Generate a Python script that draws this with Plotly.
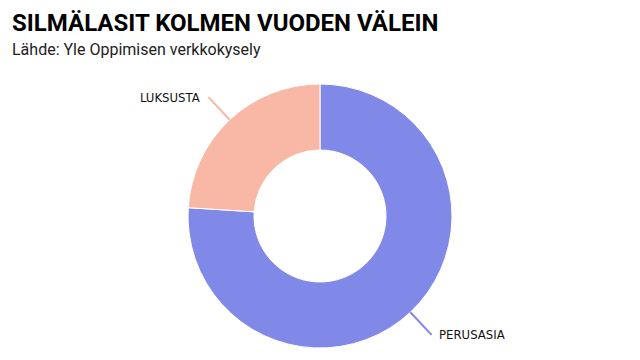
import math
import plotly.graph_objects as go

labels = ["PERUSASIA", "LUKSUSTA"]
values = [76, 24]
colors = ["#8088E8", "#F9B8A6"]

title_text = "SILMÄLASIT KOLMEN VUODEN VÄLEIN"
subtitle_text = "Lähde: Yle Oppimisen verkkokysely"

W, H = 640, 360
cx, cy, R = 320, 216, 132  # pixel geometry of the donut (from top-left)

fig = go.Figure()
fig.add_trace(go.Pie(
    labels=labels, values=values, hole=0.5, sort=False,
    direction="clockwise", rotation=0,
    marker=dict(colors=colors, line=dict(color="white", width=1)),
    textinfo="none", hoverinfo="label+percent", showlegend=False,
    domain=dict(x=[(cx - R) / W, (cx + R) / W], y=[(H - cy - R) / H, (H - cy + R) / H]),
))

shapes, annotations = [], []
total = sum(values)
cum = 0
for lab, v, col in zip(labels, values, colors):
    mid = (cum + v / 2) / total * 2 * math.pi  # clockwise from top
    cum += v
    dx, dy = math.sin(mid), -math.cos(mid)  # pixel dir (dy positive downward)
    x0, y0 = cx + dx * R, cy + dy * R
    x1, y1 = cx + dx * (R + 31), cy + dy * (R + 31)
    shapes.append(dict(type="line", xref="paper", yref="paper",
                       x0=x0 / W, y0=1 - y0 / H, x1=x1 / W, y1=1 - y1 / H,
                       line=dict(color=col, width=2)))
    right = dx < 0
    tx = x1 - 6 if right else x1 + 5
    annotations.append(dict(text=lab, xref="paper", yref="paper", x=tx / W, y=1 - y1 / H,
                            xanchor="right" if right else "left", yanchor="middle",
                            showarrow=False,
                            font=dict(family="DejaVu Sans Condensed, sans-serif",
                                      size=13, color="#111111")))

annotations.append(dict(text="<b>" + title_text + "</b>", xref="paper", yref="paper",
                        x=10 / W, y=1 - 7 / H, xanchor="left", yanchor="top", showarrow=False,
                        font=dict(family="Roboto, sans-serif", size=24, color="#000000")))
annotations.append(dict(text=subtitle_text, xref="paper", yref="paper",
                        x=10 / W, y=1 - 38 / H, xanchor="left", yanchor="top", showarrow=False,
                        font=dict(family="Roboto, sans-serif", size=16, color="#222222")))

fig.update_layout(width=W, height=H, margin=dict(l=0, r=0, t=0, b=0),
                  paper_bgcolor="white", plot_bgcolor="white",
                  shapes=shapes, annotations=annotations)
fig.write_html("out.html", config={"displayModeBar": False},
               post_script="document.body.style.margin='0';")
